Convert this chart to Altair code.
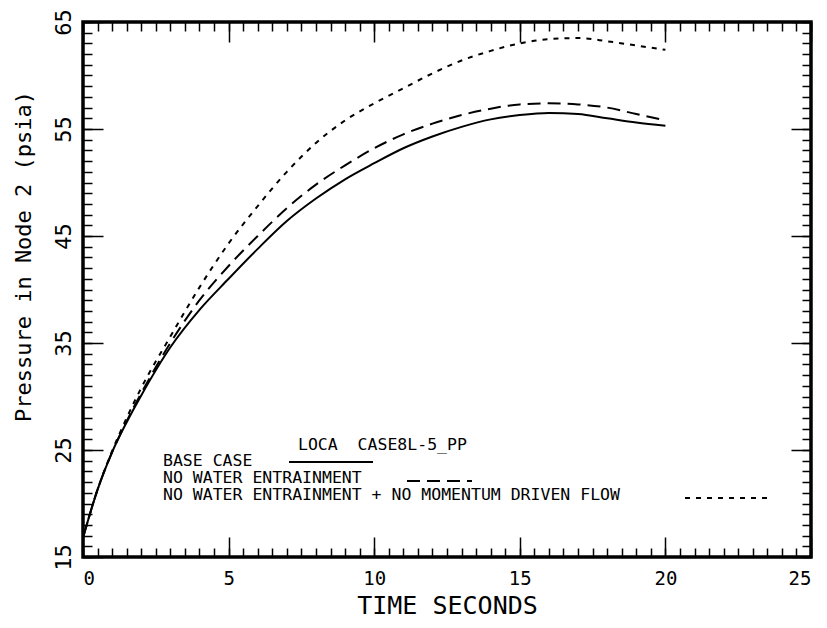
import altair as alt
import pandas as pd

# ---- data ----
time_s = [0, 0.5, 1, 1.5, 2, 3, 4, 5, 6, 7, 8, 9, 10, 11, 12, 13, 14, 15, 16, 17, 18, 19, 20]
base_case = [16.8, 21.3, 24.8, 27.6, 30.1, 34.6, 38.1, 41.0, 43.8, 46.4, 48.5, 50.3, 51.8,
             53.2, 54.3, 55.2, 55.9, 56.3, 56.5, 56.4, 56.0, 55.6, 55.3]
no_entrain = [16.8, 21.3, 24.8, 27.7, 30.3, 35.0, 39.0, 42.2, 45.0, 47.6, 49.8, 51.6, 53.2,
              54.5, 55.5, 56.3, 56.9, 57.3, 57.4, 57.3, 57.0, 56.4, 55.8]
no_entrain_no_mom = [16.8, 21.3, 24.9, 28.0, 30.8, 35.6, 40.2, 44.3, 47.8, 51.0, 53.7, 55.8, 57.4,
                     58.8, 60.2, 61.4, 62.3, 63.0, 63.4, 63.5, 63.2, 62.8, 62.4]

x_major = [0, 5, 10, 15, 20, 25]
x_minor = [i / 2 for i in range(0, 51)]
y_major = [15, 25, 35, 45, 55, 65]
y_minor = list(range(15, 66))

title_main = "LOCA\u00a0\u00a0CASE8L-5_PP"
label_base = "BASE CASE"
label_noent = "NO WATER ENTRAINMENT"
label_nomom = "NO WATER ENTRAINMENT + NO MOMENTUM DRIVEN FLOW"

FONT = "DejaVu Sans Mono"

df_base = pd.DataFrame({"t": time_s, "p": base_case})
df_noent = pd.DataFrame({"t": time_s, "p": no_entrain})
df_nomom = pd.DataFrame({"t": time_s, "p": no_entrain_no_mom})

sx = alt.Scale(domain=[0, 25], nice=False, zero=False)
sy = alt.Scale(domain=[15, 65], nice=False, zero=False)


def line(df, dash):
    kw = {"strokeDash": dash} if dash else {}
    return alt.Chart(df).mark_line(color="black", strokeWidth=2, interpolate="monotone", **kw).encode(
        x=alt.X("t:Q", scale=sx, axis=None),
        y=alt.Y("p:Q", scale=sy, axis=None),
    )


main = alt.Chart(df_base).mark_line(color="black", strokeWidth=2, interpolate="monotone").encode(
    x=alt.X("t:Q", scale=sx, axis=alt.Axis(
        orient="bottom", values=x_major, ticks=False, tickSize=0, domain=False, grid=False,
        labelFont=FONT, labelFontSize=19, labelColor="black", labelPadding=12,
        title="TIME SECONDS", titleFont=FONT, titleFontSize=25, titleFontWeight="normal",
        titleColor="black", titlePadding=5)),
    y=alt.Y("p:Q", scale=sy, axis=alt.Axis(
        orient="left", values=y_major, ticks=False, tickSize=0, domain=False, grid=False,
        labelFont=FONT, labelFontSize=22, labelColor="black", labelPadding=13,
        labelAngle=270, labelAlign="center", labelBaseline="alphabetic",
        title="Pressure in Node 2 (psia)", titleFont=FONT, titleFontSize=22,
        titleFontWeight="normal", titleColor="black",
        titleX=-60, titleY=234, titleAngle=270, titleAlign="center", titleBaseline="middle")),
)


def tick_layer(xo, yo, xv, yv, size):
    common = dict(labels=False, domain=False, grid=False, title=None,
                  tickColor="black", tickWidth=1.5, tickSize=size, offset=-size)
    return alt.Chart(df_base).mark_point(opacity=0).encode(
        x=alt.X("t:Q", scale=sx, axis=alt.Axis(orient=xo, values=xv, **common)),
        y=alt.Y("p:Q", scale=sy, axis=alt.Axis(orient=yo, values=yv, **common)),
    )


ticks = [
    tick_layer("bottom", "left", x_minor, y_minor, 9),
    tick_layer("bottom", "left", x_major, y_major, 20),
    tick_layer("top", "right", x_minor, y_minor, 9),
    tick_layer("top", "right", x_major, y_major, 20),
]

one = pd.DataFrame({"k": [0]})


def text(s, x, y):
    return alt.Chart(one).mark_text(text=s, font=FONT, fontSize=16.5, align="left",
                                    baseline="alphabetic", color="black").encode(
        x=alt.value(x), y=alt.value(y))


def sample(x1, x2, y, dash):
    kw = {"strokeDash": dash} if dash else {}
    return alt.Chart(one).mark_rule(color="black", strokeWidth=2, **kw).encode(
        x=alt.value(x1), x2=alt.value(x2), y=alt.value(y))


legend = [
    text(title_main, 215, 428),
    text(label_base, 80, 444),
    text(label_noent, 80, 461),
    text(label_nomom, 80, 478),
    sample(206, 290, 440, None),
    sample(324, 389, 459, [13, 7]),
    sample(602, 685, 476, [5, 6]),
]

chart = alt.layer(
    main,
    line(df_noent, [13, 7]),
    line(df_nomom, [5, 6]),
    *ticks,
    *legend,
).resolve_axis(x="independent", y="independent").properties(
    width=728, height=535,
    autosize=alt.AutoSizeParams(type="none"),
    padding={"left": 75, "top": 14, "right": 6, "bottom": 70},
    background="white",
).configure_view(stroke="black", strokeWidth=3.5)

chart.save("out.html", embed_options={"renderer": "svg", "actions": False})
